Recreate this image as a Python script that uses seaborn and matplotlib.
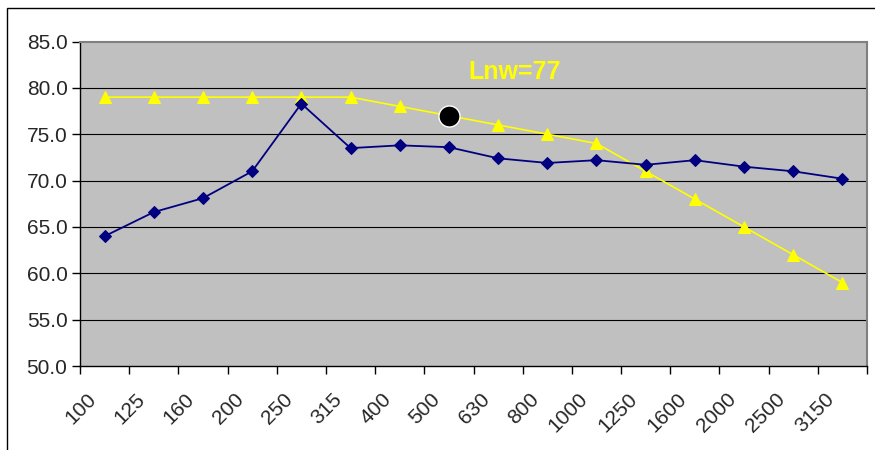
import matplotlib
matplotlib.use("Agg")
import matplotlib.pyplot as plt
import matplotlib.transforms as mtransforms
from matplotlib.patches import Rectangle
import seaborn as sns
import pandas as pd

# Third-octave band centre frequencies (Hz)
freqs = ["100", "125", "160", "200", "250", "315", "400", "500",
         "630", "800", "1000", "1250", "1600", "2000", "2500", "3150"]
# Measured impact sound level per band (dB)
measured = [64.0, 66.6, 68.1, 71.0, 78.3, 73.5, 73.8, 73.6,
            72.4, 71.9, 72.2, 71.7, 72.2, 71.5, 71.0, 70.2]
# Shifted reference curve per band (dB)
reference = [79, 79, 79, 79, 79, 79, 78, 77,
             76, 75, 74, 71, 68, 65, 62, 59]
rating_label = "Lnw=77"
rating_freq = "500"
rating_value = 77
y_ticks = [50, 55, 60, 65, 70, 75, 80, 85]

sns.set_theme(style="white")
plt.rcParams["font.family"] = ["Liberation Sans", "DejaVu Sans"]

df = pd.DataFrame({
    "pos": list(range(len(freqs))),
    "measured": measured,
    "reference": reference,
})

fig = plt.figure(figsize=(8.75, 4.5), dpi=100)
fig.patch.set_facecolor("white")
ax = fig.add_axes([80 / 875, 1 - 366 / 450, 787 / 875, 324.5 / 450])
ax.set_facecolor("#C0C0C0")

# outer chart frame
fig.patches.append(Rectangle((6.5 / 875, -0.1), 1.2, 1 - 8 / 450 + 0.1,
                             transform=fig.transFigure, fill=False,
                             edgecolor="black", linewidth=1.0, zorder=0))

for y in y_ticks[1:-1]:
    ax.axhline(y, color="black", linewidth=0.8, zorder=1)

sns.lineplot(data=df, x="pos", y="reference", ax=ax, color="#FFFF00",
             linewidth=1.2, marker="^", markersize=8.5,
             markeredgecolor="#FFFF00", zorder=3)
sns.lineplot(data=df, x="pos", y="measured", ax=ax, color="#000080",
             linewidth=1.3, marker="D", markersize=6,
             markeredgecolor="#000080", zorder=4)

rx = freqs.index(rating_freq)
ax.scatter([rx], [rating_value], s=230, color="black", edgecolor="white",
           linewidth=1.0, zorder=5)
ax.text(rx + 1.34, 81.7, rating_label, color="#FFFF00", fontsize=18,
        fontweight="bold", ha="center", va="center", zorder=6)

n = len(freqs)
ax.set_xlim(-0.5, n - 0.5)
ax.set_ylim(50, 85)
ax.set_yticks(y_ticks)
ax.set_yticklabels([f"{v:.1f}" for v in y_ticks])
ax.set_xticks([i - 0.5 for i in range(n + 1)])
ax.set_xticklabels([])
ax.set_xticks(list(range(n)), minor=True)
ax.set_xticklabels(freqs, minor=True, rotation=45, ha="right",
                   rotation_mode="anchor")
ax.tick_params(axis="x", which="major", direction="out", length=6,
               width=1, color="black", bottom=True)
ax.tick_params(axis="x", which="minor", length=0, pad=17, labelsize=15,
               bottom=True)
ax.tick_params(axis="y", direction="out", length=6, width=1, color="black",
               left=True, labelsize=15, pad=3)
offset = mtransforms.ScaledTranslation(-13 / 72, 0, fig.dpi_scale_trans)
for lab in ax.get_xticklabels(minor=True):
    lab.set_transform(lab.get_transform() + offset)

ax.set_xlabel("")
ax.set_ylabel("")
for side in ("left", "bottom"):
    ax.spines[side].set_color("black")
    ax.spines[side].set_linewidth(1.0)
for side in ("top", "right"):
    ax.spines[side].set_color("#808080")
    ax.spines[side].set_linewidth(1.5)
ax.grid(False)

fig.savefig("out.png", dpi=100, facecolor="white")
